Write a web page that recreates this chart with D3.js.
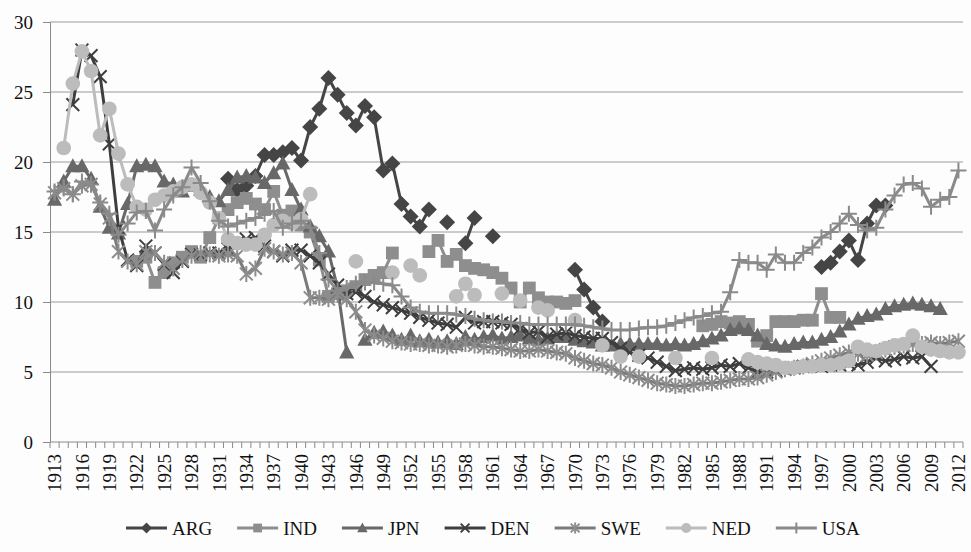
<!DOCTYPE html>
<html lang="en">
<head>
<meta charset="utf-8">
<title>Series 1913-2012</title>
<script src="https://d3js.org/d3.v7.min.js"></script>
<style>
  body { margin: 0; background: #fdfdfd; }
</style>
</head>
<body>
<script>
// years on the category axis
var years = d3.range(1913, 2013);
var yTicks = [0, 5, 10, 15, 20, 25, 30];
var seriesNames = ["ARG", "IND", "JPN", "DEN", "SWE", "NED", "USA"];

// values, one per year 1913..2012 (null = no point)
var _ = null;
var ARG = [
  _,_,_,_,_,_,_,_,_,_, _,_,_,_,_,_,_,_,_,            // 1913-1931
  18.8,18.0,18.3,19.0,20.5,20.5,20.7,21.0,20.1,22.5, // 1932-1941
  23.8,26.0,24.8,23.5,22.6,24.0,23.2,19.4,19.9,17.0, // 1942-1951
  16.1,15.4,16.6,_,15.7,_,14.2,16.0,_,14.7,          // 1952-1961
  _,_,_,_,_,_,_,_,12.3,10.9,                         // 1962-1971
  9.6,8.6,_,_,_,_,_,_,_,_,                           // 1972-1981
  _,_,_,_,_,_,_,_,_,_,                               // 1982-1991
  _,_,_,_,_,12.5,12.8,13.6,14.4,13.0,                // 1992-2001
  15.6,16.9,16.9,_,_,_,_,_,_,_,_                     // 2002-2012
];
var IND = [
  _,_,_,_,_,_,_,_,_,                                 // 1913-1921
  12.9,13.2,11.4,12.1,12.8,13.2,13.6,13.2,14.6,16.0, // 1922-1931
  16.6,17.1,17.4,17.0,16.6,17.9,16.2,16.5,15.5,15.0, // 1932-1941
  13.0,10.4,10.6,10.8,11.1,11.6,11.9,12.1,13.5,_,    // 1942-1951
  _,_,13.6,14.4,12.9,13.4,12.6,12.4,12.3,12.1,       // 1952-1961
  11.7,11.0,10.0,11.0,10.3,10.0,10.0,9.9,10.1,_,     // 1962-1971
  _,_,_,_,_,_,_,_,_,_,                               // 1972-1981
  _,_,8.3,8.4,8.6,8.5,8.6,8.4,7.2,7.6,               // 1982-1991
  8.6,8.6,8.6,8.7,8.7,10.6,8.9,8.9,_,_,              // 1992-2001
  _,_,_,_,_,_,_,_,_,_,_                              // 2002-2012
];
var JPN = [
  17.3,18.6,19.7,19.7,18.8,16.8,15.3,14.9,17.0,19.7, // 1913-1922
  19.8,19.7,18.6,18.4,17.9,18.3,18.0,17.5,17.2,18.0, // 1923-1932
  18.9,19.0,18.9,18.5,19.2,19.9,18.0,16.6,15.4,14.7, // 1933-1942
  13.6,11.0,6.4,_,7.3,7.8,7.9,7.6,7.3,7.6,           // 1943-1952
  7.2,7.3,7.1,7.2,7.0,7.5,7.3,7.5,7.6,7.4,           // 1953-1962
  7.5,7.6,7.4,7.3,7.4,7.5,7.5,7.3,7.2,7.1,           // 1963-1972
  6.9,6.9,7.0,7.0,7.0,7.0,7.0,6.9,7.0,6.9,           // 1973-1982
  7.0,7.2,7.4,7.6,8.0,8.1,8.0,7.6,7.0,6.9,           // 1983-1992
  6.8,7.0,7.1,7.1,7.3,7.5,7.9,8.4,8.8,9.0,           // 1993-2002
  9.1,9.5,9.7,9.8,9.9,9.8,9.7,9.5,_,_                // 2003-2012
];
var DEN = [
  _,_,24.1,28.0,27.6,26.1,21.3,15.3,13.0,12.6,       // 1913-1922
  14.0,13.5,12.7,12.1,12.9,13.4,13.4,13.5,13.5,13.8, // 1923-1932
  14.2,14.5,14.6,14.0,13.6,13.3,13.7,13.7,13.3,12.8, // 1933-1942
  12.0,11.2,10.6,10.7,10.4,10.0,9.8,9.6,9.4,9.2,     // 1943-1952
  8.9,8.7,8.5,8.4,8.2,8.9,8.5,8.6,8.6,8.5,           // 1953-1962
  8.4,8.1,7.8,7.9,7.5,7.7,7.8,7.6,7.5,7.4,           // 1963-1972
  7.4,7.1,6.7,6.4,6.2,6.0,5.7,5.4,5.1,5.2,           // 1973-1982
  5.3,5.2,5.3,5.5,5.4,5.6,5.3,5.0,5.0,5.1,           // 1983-1992
  5.2,5.3,5.4,5.5,5.4,5.5,5.5,5.6,5.5,5.7,           // 1993-2002
  6.0,5.8,5.9,6.1,6.0,6.1,5.4,_,_,_                  // 2003-2012
];
var SWE = [
  17.8,18.1,17.7,18.3,18.4,17.0,16.0,13.6,12.9,12.7, // 1913-1922
  13.6,13.5,12.8,12.4,13.0,13.3,13.5,13.4,13.3,13.4, // 1923-1932
  13.3,12.0,12.4,13.8,13.6,13.4,13.5,12.8,10.3,10.3, // 1933-1942
  10.2,10.5,10.2,9.3,8.0,7.6,7.4,7.2,7.1,7.0,        // 1943-1952
  7.0,6.9,6.9,6.8,6.9,7.0,6.9,6.8,6.8,6.7,           // 1953-1962
  6.6,6.5,6.5,6.6,6.5,6.4,6.3,6.0,5.8,5.6,           // 1963-1972
  5.5,5.3,5.0,4.8,4.6,4.4,4.2,4.1,4.0,4.0,           // 1973-1982
  4.1,4.2,4.2,4.3,4.4,4.5,4.5,4.6,4.8,5.0,           // 1983-1992
  5.2,5.3,5.4,5.6,5.8,6.0,6.2,6.4,6.3,6.2,           // 1993-2002
  6.4,6.6,6.8,6.9,7.0,7.0,7.1,7.0,7.1,7.2            // 2003-2012
];
var NED = [
  _,21.0,25.6,27.9,26.5,21.9,23.8,20.6,18.4,16.8,    // 1913-1922
  16.6,17.3,17.6,17.9,18.2,18.4,17.8,17.1,16.0,14.5, // 1923-1932
  14.2,14.1,14.1,14.8,15.5,15.8,15.6,15.9,17.7,_,    // 1933-1942
  _,_,_,12.9,_,_,_,12.1,_,12.6,                      // 1943-1952
  11.9,_,_,_,10.4,11.3,10.5,_,_,10.6,                // 1953-1962
  _,10.1,_,9.6,9.4,_,_,8.7,_,_,                      // 1963-1972
  6.9,_,6.1,_,6.1,_,_,_,6.0,_,                       // 1973-1982
  _,_,6.0,_,_,_,5.9,5.7,5.6,5.5,                     // 1983-1992
  5.3,5.3,5.4,5.4,5.5,5.5,5.6,5.8,6.8,6.6,           // 1993-2002
  6.5,6.7,6.9,7.0,7.6,6.8,6.6,6.5,6.4,6.4            // 2003-2012
];
var USA = [
  17.9,18.2,17.7,18.6,18.4,17.1,16.3,14.8,15.6,16.4, // 1913-1922
  16.5,15.1,16.6,17.6,18.2,19.6,18.5,17.2,15.8,15.4, // 1923-1932
  15.6,15.8,16.0,16.3,16.5,15.3,15.6,15.8,15.3,13.5, // 1933-1942
  11.6,10.8,11.0,11.3,11.4,11.4,11.3,11.2,10.4,9.6,  // 1943-1952
  9.3,9.2,9.2,9.2,9.1,9.0,8.8,8.7,8.6,8.6,           // 1953-1962
  8.5,8.5,8.4,8.4,8.4,8.4,8.4,8.4,8.3,8.2,           // 1963-1972
  8.1,8.0,8.0,8.0,8.1,8.2,8.2,8.3,8.5,8.7,           // 1973-1982
  8.9,9.0,9.2,9.3,10.7,13.0,12.8,12.8,12.3,13.4,     // 1983-1992
  12.8,12.8,13.5,13.9,14.6,15.0,15.6,16.3,15.5,15.1, // 1993-2002
  15.3,16.6,17.6,18.4,18.5,18.1,16.8,17.3,17.5,19.4  // 2003-2012
];

var seriesValues = [ARG, IND, JPN, DEN, SWE, NED, USA];

// look of each series: line colour, marker shape, marker colour
var styles = {
  ARG: { line: "#454545", marker: "diamond",  fill: "#454545" },
  IND: { line: "#8e8e8e", marker: "square",   fill: "#8e8e8e" },
  JPN: { line: "#686868", marker: "triangle", fill: "#686868" },
  DEN: { line: "#3e3e3e", marker: "x",        fill: "#3e3e3e" },
  SWE: { line: "#7a7a7a", marker: "star",     fill: "#8c8c8c" },
  NED: { line: "#bcbcbc", marker: "circle",   fill: "#bcbcbc" },
  USA: { line: "#8a8a8a", marker: "plus",     fill: "#8a8a8a" }
};

var FONT = "'Liberation Serif'";

var width = 971, height = 552;
var plot = { left: 50, right: 963, top: 22, bottom: 442 };

var svg = d3.select("body").append("svg")
  .attr("width", width)
  .attr("height", height);

svg.append("rect").attr("width", width).attr("height", height).attr("fill", "#fdfdfd");

var x = d3.scaleBand().domain(years).range([plot.left, plot.right]).padding(0);
var y = d3.scaleLinear().domain([0, 30]).range([plot.bottom, plot.top]);
var cx = function(yr) { return x(yr) + x.bandwidth() / 2; };

// horizontal grid
svg.append("g").selectAll("line")
  .data(yTicks.filter(function(d) { return d > 0; }))
  .enter().append("line")
    .attr("x1", plot.left).attr("x2", plot.right)
    .attr("y1", function(d) { return y(d); })
    .attr("y2", function(d) { return y(d); })
    .attr("stroke", "#9a9a9a").attr("stroke-width", 1);

// y axis
var yAxis = svg.append("g")
  .attr("transform", "translate(" + plot.left + ",0)")
  .call(d3.axisLeft(y).tickValues(yTicks).tickSize(7).tickPadding(10));
yAxis.attr("font-family", null).attr("font-size", null);
yAxis.select(".domain").attr("stroke", "#8a8a8a");
yAxis.selectAll(".tick line").attr("stroke", "#8a8a8a");
yAxis.selectAll("text").attr("fill", "#111")
  .style("font-family", FONT).style("font-size", "19px");

// x axis: ticks at category edges, labels every third year
var xg = svg.append("g");
xg.append("line")
  .attr("x1", plot.left).attr("x2", plot.right)
  .attr("y1", plot.bottom).attr("y2", plot.bottom)
  .attr("stroke", "#8a8a8a");
xg.selectAll("line.tk")
  .data(years.concat([2013]))
  .enter().append("line").attr("class", "tk")
    .attr("x1", function(d) { return d === 2013 ? plot.right : x(d); })
    .attr("x2", function(d) { return d === 2013 ? plot.right : x(d); })
    .attr("y1", plot.bottom).attr("y2", plot.bottom + 6)
    .attr("stroke", "#8a8a8a");
xg.selectAll("text")
  .data(years.filter(function(d) { return (d - 1913) % 3 === 0; }))
  .enter().append("text")
    .attr("transform", function(d) { return "translate(" + cx(d) + "," + (plot.bottom + 12) + ") rotate(-90)"; })
    .attr("text-anchor", "end")
    .attr("dy", "0.35em")
    .attr("fill", "#111")
    .style("font-family", FONT).style("font-size", "19px")
    .text(function(d) { return d; });

// marker drawing
function drawMarker(g, kind, color, s) {
  if (kind === "diamond") {
    g.append("path").attr("d", "M0," + (-s) + "L" + s + ",0L0," + s + "L" + (-s) + ",0Z").attr("fill", color);
  } else if (kind === "square") {
    g.append("rect").attr("x", -s * 0.8).attr("y", -s * 0.8).attr("width", s * 1.6).attr("height", s * 1.6).attr("fill", color);
  } else if (kind === "triangle") {
    g.append("path").attr("d", "M0," + (-s) + "L" + (s * 0.95) + "," + (s * 0.75) + "L" + (-s * 0.95) + "," + (s * 0.75) + "Z").attr("fill", color);
  } else if (kind === "circle") {
    g.append("circle").attr("r", s * 0.92).attr("fill", color);
  } else if (kind === "x" || kind === "star") {
    var a = s * 0.8;
    g.append("path").attr("d", "M" + (-a) + "," + (-a) + "L" + a + "," + a + "M" + (-a) + "," + a + "L" + a + "," + (-a) +
        (kind === "star" ? "M0," + (-s) + "L0," + s : ""))
      .attr("stroke", color).attr("stroke-width", 2).attr("fill", "none");
  } else if (kind === "plus") {
    g.append("path").attr("d", "M" + (-s) + ",0L" + s + ",0M0," + (-s) + "L0," + s)
      .attr("stroke", color).attr("stroke-width", 2).attr("fill", "none");
  }
}

var line = d3.line()
  .defined(function(d) { return d.v !== null; })
  .x(function(d) { return cx(d.year); })
  .y(function(d) { return y(d.v); });

seriesNames.forEach(function(name, i) {
  var st = styles[name];
  var pts = years.map(function(yr, j) { return { year: yr, v: seriesValues[i][j] }; });
  var g = svg.append("g");
  g.append("path")
    .attr("d", line(pts))
    .attr("fill", "none")
    .attr("stroke", st.line)
    .attr("stroke-width", 3)
    .attr("stroke-linejoin", "round");
  pts.filter(function(d) { return d.v !== null; }).forEach(function(d) {
    var m = g.append("g").attr("transform", "translate(" + cx(d.year) + "," + y(d.v) + ")");
    drawMarker(m, st.marker, st.fill, 8);
  });
});

// legend
var lx = 126, ly = 528;
seriesNames.forEach(function(name) {
  var st = styles[name];
  var lg = svg.append("g");
  lg.append("line").attr("x1", lx).attr("x2", lx + 41).attr("y1", ly).attr("y2", ly)
    .attr("stroke", st.line).attr("stroke-width", 3);
  var m = lg.append("g").attr("transform", "translate(" + (lx + 20.5) + "," + ly + ")");
  drawMarker(m, st.marker, st.fill, 5.5);
  var t = lg.append("text").attr("x", lx + 46).attr("y", ly).attr("dy", "0.35em")
    .attr("fill", "#111")
    .style("font-family", FONT).style("font-size", "19px").text(name);
  lx = lx + 46 + t.node().getComputedTextLength() + 25;
});
</script>
</body>
</html>
